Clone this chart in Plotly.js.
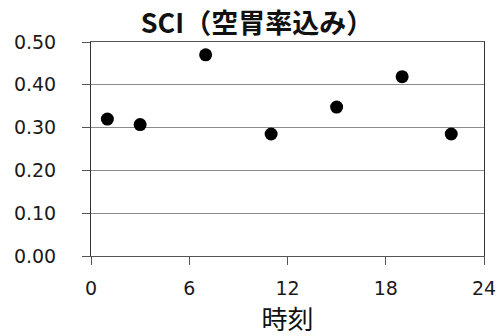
<!DOCTYPE html>
<html>
<head>
<meta charset="utf-8">
<script src="https://cdn.plot.ly/plotly-3.0.1.min.js"></script>
<style>html,body{margin:0;padding:0;background:#fff;}#chart{width:500px;height:336px;}</style>
</head>
<body>
<div id="chart"></div>
<script>
const hours = [1, 3, 7, 11, 15, 19, 22];
const sciValues = [0.320, 0.307, 0.470, 0.285, 0.348, 0.419, 0.285];
const xTicks = [0, 6, 12, 18, 24];
const yTicks = [0.0, 0.1, 0.2, 0.3, 0.4, 0.5];
const chartTitle = "SCI（空胃率込み）";
const xTitle = "時刻";

const trace = {
  x: hours, y: sciValues, type: 'scatter', mode: 'markers',
  marker: {color: '#000000', size: 13},
  hoverinfo: 'x+y', showlegend: false
};

const layout = {
  width: 500, height: 336,
  margin: {l: 91, r: 16, t: 42, b: 80, pad: 0},
  paper_bgcolor: '#ffffff', plot_bgcolor: '#ffffff',
  font: {family: 'DejaVu Sans, sans-serif', color: '#1a1a1a'},
  title: {
    text: '<b>' + chartTitle + '</b>',
    font: {family: '"Noto Sans CJK JP", sans-serif', size: 27, color: '#111111'},
    x: 0.514, xref: 'container', xanchor: 'center',
    y: 0.93, yref: 'container', yanchor: 'middle'
  },
  xaxis: {
    range: [0, 24], tickvals: xTicks, ticktext: xTicks.map(String),
    ticks: 'outside', ticklen: 8, tickcolor: '#555555', tickwidth: 1,
    showline: true, linecolor: '#555555', linewidth: 1, mirror: true,
    showgrid: false, zeroline: false,
    tickfont: {family: 'DejaVu Sans, sans-serif', size: 19, color: '#1a1a1a'},
    ticklabelstandoff: 7,
    title: {text: xTitle, font: {family: '"Noto Sans CJK JP", sans-serif', size: 26, color: '#111111'}, standoff: 2}
  },
  yaxis: {
    range: [0, 0.5], tickvals: yTicks, tickformat: '.2f',
    ticks: 'outside', ticklen: 8, tickcolor: '#555555', tickwidth: 1,
    showline: true, linecolor: '#333333', linewidth: 1, mirror: true,
    showgrid: true, gridcolor: '#8c8c8c', gridwidth: 1, zeroline: false,
    tickfont: {family: 'DejaVu Sans, sans-serif', size: 19, color: '#1a1a1a'},
    ticklabelstandoff: 22
  }
};

Plotly.newPlot('chart', [trace], layout, {displayModeBar: false, staticPlot: true});
</script>
</body>
</html>
